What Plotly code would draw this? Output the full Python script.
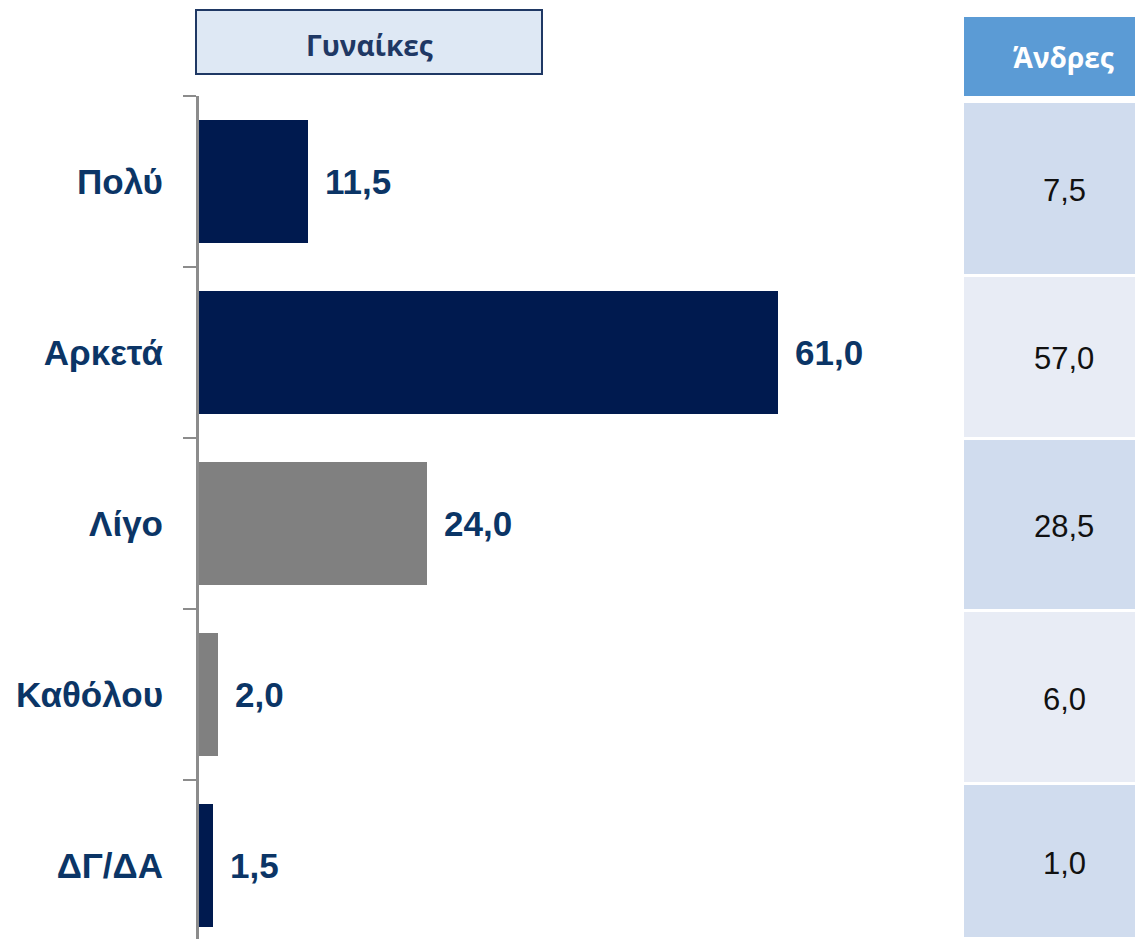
import plotly.graph_objects as go

# Browser page has an 8px body margin; the figure is offset so positions match the window.
OFF = 8
W, H = 1143, 947 - 2 * OFF

categories = ["Πολύ", "Αρκετά", "Λίγο", "Καθόλου", "ΔΓ/ΔΑ"]
women = [11.5, 61.0, 24.0, 2.0, 1.5]
men = [7.5, 57.0, 28.5, 6.0, 1.0]
women_title = "Γυναίκες"
men_title = "Άνδρες"

NAVY = "#001A4F"
GRAY = "#808080"
bar_colors = [NAVY, NAVY, GRAY, GRAY, NAVY]
LABEL = "#0B3566"
ARIAL = "Liberation Sans, Arial, sans-serif"


def fmt(v):
    return f"{v:.1f}".replace(".", ",")


def px(x):
    return (x - OFF) / W


def py(y):
    return 1 - (y - OFF) / H


fig = go.Figure()
fig.add_trace(go.Bar(
    orientation="h", x=women, y=categories, width=0.725,
    marker=dict(color=bar_colors, line=dict(width=0)),
    hoverinfo="skip",
))

annotations = []
for c, v in zip(categories, women):
    annotations.append(dict(
        x=v, y=c, xref="x", yref="y", text=fmt(v), showarrow=False,
        xanchor="left", yanchor="middle", xshift=15,
        font=dict(family=ARIAL, size=35, color=LABEL, weight="bold"),
    ))

shapes = []
# Women header box
shapes.append(dict(type="rect", xref="paper", yref="paper",
                   x0=px(196), x1=px(542), y0=py(74), y1=py(10),
                   fillcolor="#DEE8F4", line=dict(color="#1F3864", width=2)))
annotations.append(dict(x=px(369), y=py(45), xref="paper", yref="paper",
                        text=women_title, showarrow=False,
                        xanchor="center", yanchor="middle",
                        font=dict(family="Open Sans, Noto Sans, sans-serif", size=28,
                                  color="#1F3864", weight="bold")))

# Men table
TABLE_R = 1.0
shapes.append(dict(type="rect", xref="paper", yref="paper",
                   x0=px(964), x1=TABLE_R, y0=py(96), y1=py(17),
                   fillcolor="#5B9BD5", line=dict(width=0), layer="below"))
annotations.append(dict(x=px(1063), y=py(57), xref="paper", yref="paper",
                        text=men_title, showarrow=False,
                        xanchor="center", yanchor="middle",
                        font=dict(family="Open Sans, Noto Sans, sans-serif", size=28,
                                  color="white", weight="bold")))
row_bounds = [(103, 274), (277, 437), (440, 609), (612, 782), (785, 937)]
row_fill = ["#D0DCEE", "#E8ECF5"]
for i, (v, (t, b)) in enumerate(zip(men, row_bounds)):
    shapes.append(dict(type="rect", xref="paper", yref="paper",
                       x0=px(964), x1=TABLE_R, y0=py(b), y1=py(t),
                       fillcolor=row_fill[i % 2], line=dict(width=0), layer="below"))
    annotations.append(dict(x=px(1064), y=py((t + b) / 2 + 2), xref="paper", yref="paper",
                            text=fmt(v), showarrow=False,
                            xanchor="center", yanchor="middle",
                            font=dict(family=ARIAL, size=31, color="#111111")))

y_top_px = 96
cat_px = 171.0
y_bot_px = OFF + H
bottom_val = -0.5 + (y_bot_px - y_top_px) / cat_px

fig.update_layout(
    width=W, height=H,
    margin=dict(l=0, r=0, t=0, b=0),
    paper_bgcolor="white", plot_bgcolor="white",
    showlegend=False,
    bargap=0,
    shapes=shapes,
    annotations=annotations,
    xaxis=dict(domain=[px(199), px(958)], range=[0, 80], visible=False, fixedrange=True),
    yaxis=dict(
        type="category", categoryorder="array", categoryarray=categories,
        domain=[0, py(y_top_px)], range=[bottom_val, -0.5],
        showline=True, linecolor="#8C8C8C", linewidth=3,
        ticks="outside", ticklen=13, tickwidth=2, tickcolor="#8C8C8C",
        tickson="boundaries", showgrid=False, zeroline=False,
        ticklabelstandoff=26,
        tickfont=dict(family=ARIAL, size=35, color=LABEL, weight="bold"),
    ),
)

fig.write_html("out.html")
